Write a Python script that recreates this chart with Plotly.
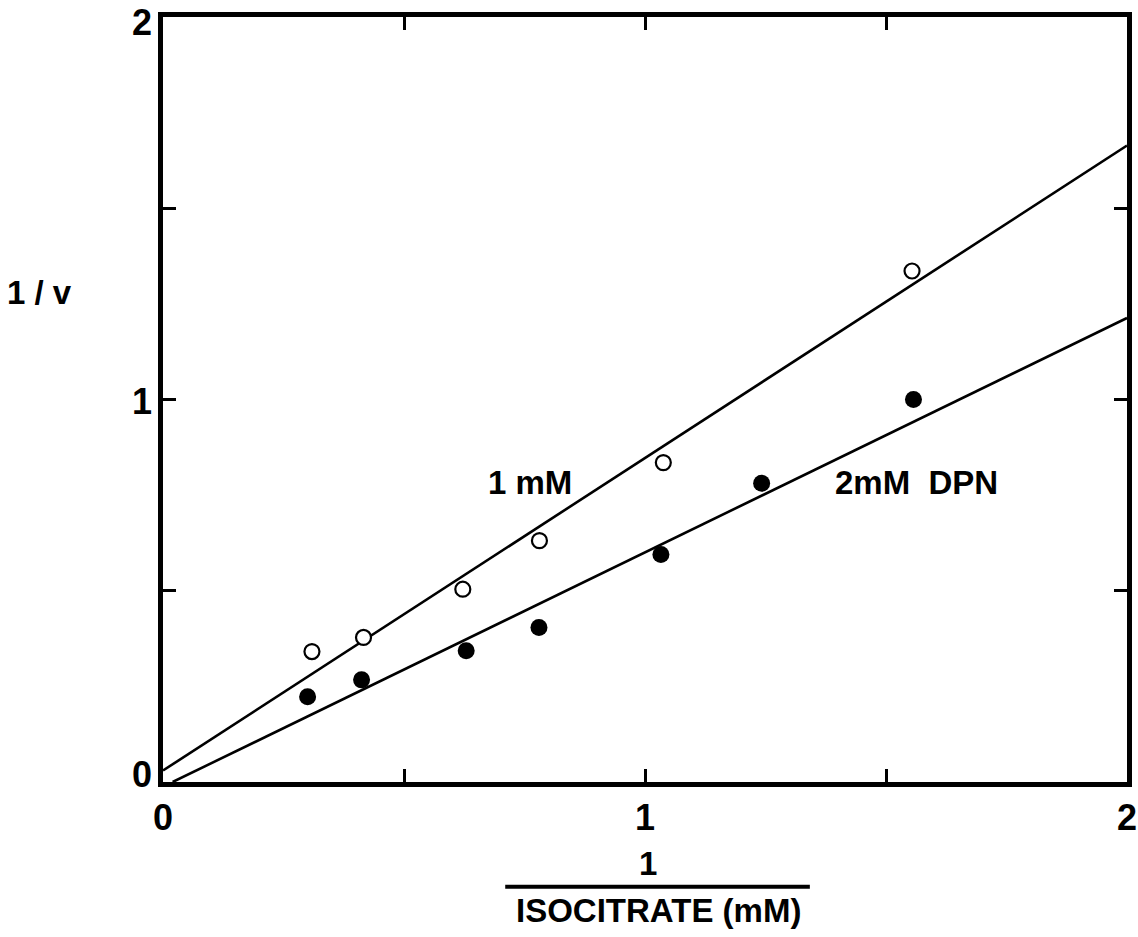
import plotly.graph_objects as go

# Lineweaver-Burk data: 1/[isocitrate] (mM^-1) vs 1/v
x_1mM = [0.309, 0.416, 0.622, 0.781, 1.038, 1.554]
y_1mM = [0.341, 0.378, 0.504, 0.631, 0.835, 1.336]

x_2mM = [0.300, 0.412, 0.629, 0.780, 1.033, 1.242, 1.557]
y_2mM = [0.223, 0.267, 0.343, 0.404, 0.595, 0.781, 1.000]

# fitted straight lines (end points)
fit_1mM_x = [0.0, 2.0]
fit_1mM_y = [0.030, 1.664]
fit_2mM_x = [0.02, 2.0]
fit_2mM_y = [0.0, 1.213]

tick_vals = [0, 0.5, 1, 1.5, 2]
x_tick_text = ["0", "", "1", "", "2"]
y_label_vals = [0, 1, 2]
y_label_text = ["0", "1", "2"]

FONT = "Liberation Sans"
INK = "black"

fig = go.Figure()

fig.add_trace(go.Scatter(x=fit_1mM_x, y=fit_1mM_y, mode="lines",
                         line=dict(color=INK, width=2.6), showlegend=False))
fig.add_trace(go.Scatter(x=fit_2mM_x, y=fit_2mM_y, mode="lines",
                         line=dict(color=INK, width=2.6), showlegend=False))
fig.add_trace(go.Scatter(x=x_1mM, y=y_1mM, mode="markers",
                         marker=dict(symbol="circle", size=15, color="white",
                                     line=dict(color=INK, width=2.2)),
                         showlegend=False))
fig.add_trace(go.Scatter(x=x_2mM, y=y_2mM, mode="markers",
                         marker=dict(symbol="circle", size=17, color=INK,
                                     line=dict(width=0)),
                         showlegend=False))

tick_font = dict(family=FONT, size=36, color=INK, weight="bold")

axis_common = dict(
    range=[0, 2], tickvals=tick_vals,
    ticks="inside", ticklen=13, tickwidth=2.5, tickcolor=INK,
    showline=True, linewidth=5, linecolor=INK, mirror="ticks",
    showgrid=False, zeroline=False, ticklabeloverflow="allow",
    automargin=False, tickfont=tick_font,
)

fig.update_xaxes(ticktext=x_tick_text, **axis_common)
fig.update_yaxes(showticklabels=False, **axis_common)

# y tick labels, nudged so the top one stays inside the page
for val, txt, shift in zip(y_label_vals, y_label_text, [8, -2, -5]):
    fig.add_annotation(x=0, y=val, xref="paper", yref="y", text=txt,
                       xanchor="right", yanchor="middle", xshift=-9,
                       yshift=shift, showarrow=False, font=tick_font)

label_font = dict(family=FONT, size=33, color=INK, weight="bold")

fig.add_annotation(x=0.761, y=0.782, text="1 mM", showarrow=False,
                   font=label_font)
fig.add_annotation(x=1.39, y=0.782, text="2mM  DPN", showarrow=False,
                   xanchor="left", font=label_font)

# y-axis title
fig.add_annotation(x=-0.128, y=0.64, xref="paper", yref="paper",
                   xanchor="center", yanchor="middle",
                   text="1 / v", showarrow=False, font=label_font)

# x-axis title written as a fraction
fig.add_annotation(x=0.503, y=-0.107, xref="paper", yref="paper",
                   xanchor="center", yanchor="middle",
                   text="1", showarrow=False, font=label_font)
fig.add_shape(type="line", xref="paper", yref="paper",
              x0=0.355, x1=0.671, y0=-0.137, y1=-0.137,
              line=dict(color=INK, width=4))
fig.add_annotation(x=0.514, y=-0.168, xref="paper", yref="paper",
                   xanchor="center", yanchor="middle",
                   text="ISOCITRATE (mM)", showarrow=False, font=label_font)

fig.update_layout(
    width=1138, height=937,
    margin=dict(l=163, r=11, t=17, b=155),
    paper_bgcolor="white", plot_bgcolor="white",
)

fig.write_html("out.html")
